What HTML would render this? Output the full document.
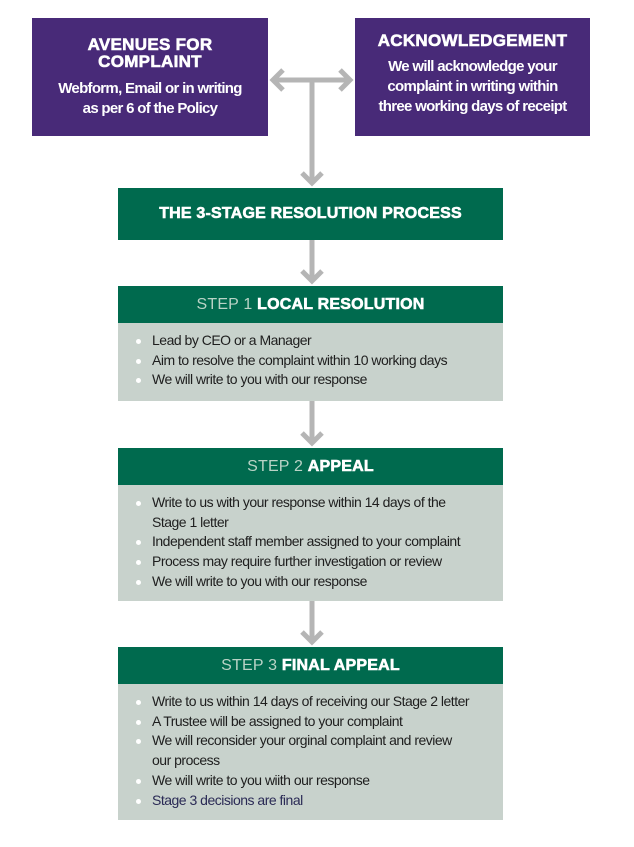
<!DOCTYPE html>
<html><head><meta charset="utf-8"><style>
*{margin:0;padding:0;box-sizing:border-box}
body{width:634px;height:847px;background:#fff;position:relative;font-family:"Liberation Sans",sans-serif;overflow:hidden}
.p{position:absolute;background:#482a78;color:#fff;text-align:center}
.h{font-weight:900;font-size:17px;line-height:17px;letter-spacing:0.3px;-webkit-text-stroke:0.6px #fff}
.s{font-weight:bold;font-size:15px;line-height:20px;letter-spacing:-0.7px}
.g{position:absolute;left:118px;width:385px;background:#006a4e;color:#fff;text-align:center;font-weight:bold;font-size:16px;letter-spacing:0.2px}
.g b{-webkit-text-stroke:0.6px #fff}
.g span{color:#b9d3c6;font-weight:normal;font-size:16px}
.b{position:absolute;left:118px;width:385px;background:#c8d2cc;padding:8px 0 0 34px;font-size:14px;line-height:19.7px;letter-spacing:-0.5px;color:#1e1e1e}
.b div{position:relative}
.b div:before{content:"";position:absolute;left:-16px;top:8px;width:5px;height:5px;border-radius:50%;background:#fff}
</style></head><body>
<div class="p" style="left:32px;top:18px;width:236px;height:118px;padding-top:18px">
<div class="h">AVENUES FOR<br>COMPLAINT</div>
<div class="s" style="margin-top:9px">Webform, Email or in writing<br>as per 6 of the Policy</div></div>
<div class="p" style="left:355px;top:18px;width:235px;height:118px;padding-top:14px">
<div class="h">ACKNOWLEDGEMENT</div>
<div class="s" style="margin-top:8px">We will acknowledge your<br>complaint in writing within<br>three working days of receipt</div></div>
<svg style="position:absolute;left:0;top:0" width="634" height="847">
<g stroke="#b5b5b5" stroke-width="5" fill="none">
<line x1="273" y1="80" x2="350" y2="80"/>
<polyline points="283,70 273,80 283,90"/>
<polyline points="340,70 350,80 340,90"/>
<line x1="312" y1="80" x2="312" y2="183"/>
<polyline points="302,173 312,183 322,173"/>
<line x1="312" y1="240" x2="312" y2="281"/>
<polyline points="302,271 312,281 322,271"/>
<line x1="312" y1="401" x2="312" y2="443"/>
<polyline points="302,433 312,443 322,433"/>
<line x1="312" y1="601" x2="312" y2="642"/>
<polyline points="302,632 312,642 322,632"/>
</g></svg>
<div class="g" style="top:188px;height:52px;line-height:52px;font-size:16px"><b>THE 3-STAGE RESOLUTION PROCESS</b></div>
<div class="g" style="top:286px;height:37px;line-height:37px"><span>STEP 1</span> <b>LOCAL RESOLUTION</b></div>
<div class="b" style="top:323px;height:78px">
<div>Lead by CEO or a Manager</div><div>Aim to resolve the complaint within 10 working days</div><div>We will write to you with our response</div></div>
<div class="g" style="top:448px;height:37px;line-height:37px"><span>STEP 2</span> <b>APPEAL</b></div>
<div class="b" style="top:485px;height:116px">
<div>Write to us with your response within 14 days of the<br>Stage 1 letter</div><div>Independent staff member assigned to your complaint</div><div>Process may require further investigation or review</div><div>We will write to you with our response</div></div>
<div class="g" style="top:647px;height:37px;line-height:37px"><span>STEP 3</span> <b>FINAL APPEAL</b></div>
<div class="b" style="top:684px;height:136px">
<div>Write to us within 14 days of receiving our Stage 2 letter</div><div>A Trustee will be assigned to your complaint</div><div>We will reconsider your orginal complaint and review<br>our process</div><div>We will write to you wiith our response</div><div style="color:#2a2a55">Stage 3 decisions are final</div></div>
</body></html>
